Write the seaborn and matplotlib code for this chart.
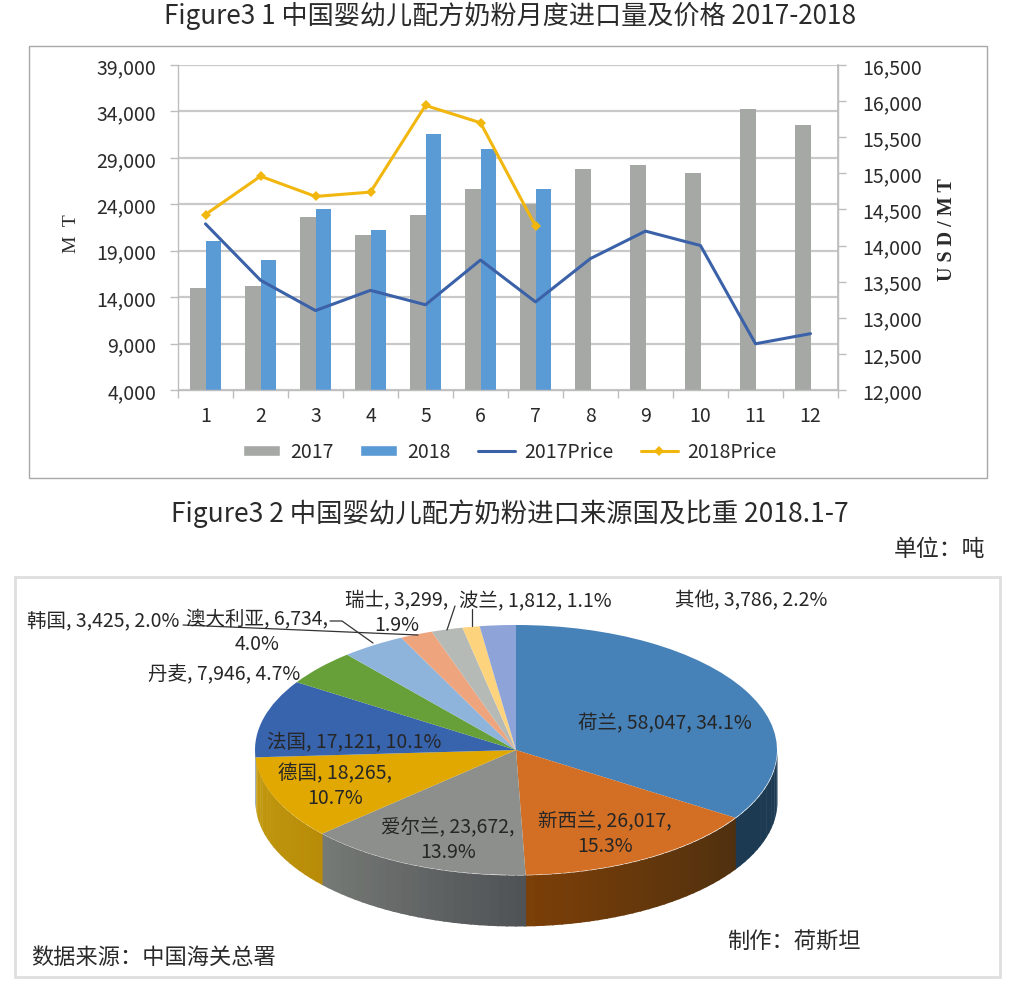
import numpy as np
import pandas as pd
import matplotlib
matplotlib.use("Agg")
import matplotlib.pyplot as plt
from matplotlib.lines import Line2D
from matplotlib.patches import Patch, Rectangle
from matplotlib.ticker import StrMethodFormatter
from matplotlib.colors import to_rgb
import seaborn as sns

months = [str(i) for i in range(1, 13)]
vol_2017 = [15000, 15200, 22600, 20700, 22900, 25600, 24000, 27800, 28200, 27400, 34300, 32500]
vol_2018 = [20000, 18000, 23500, 21200, 31600, 30000, 25600, np.nan, np.nan, np.nan, np.nan, np.nan]
price_2017 = [14300, 13520, 13100, 13380, 13180, 13800, 13220, 13820, 14200, 14000, 12640, 12780]
price_2018 = [14430, 14960, 14680, 14740, 15940, 15700, 14270]
left_ticks = list(range(4000, 39001, 5000))
right_ticks = list(range(12000, 16501, 500))

countries = ["荷兰", "新西兰", "爱尔兰", "德国", "法国", "丹麦", "澳大利亚", "韩国", "瑞士", "波兰", "其他"]
tons = [58047, 26017, 23672, 18265, 17121, 7946, 6734, 3425, 3299, 1812, 3786]
shares = [34.1, 15.3, 13.9, 10.7, 10.1, 4.7, 4.0, 2.0, 1.9, 1.1, 2.2]
top_colors = ["#4681b8", "#d36f24", "#8c8f8c", "#e0a800", "#3864ae", "#679f38",
              "#8fb4dc", "#eea57e", "#b5bab6", "#fdd37e", "#8ea3d8"]
side_right = ["#1c3a52", "#4f300f", "#505356", "#b88c08", "#3864ae", "#679f38",
              "#8fb4dc", "#eea57e", "#b5bab6", "#fdd37e", "#8ea3d8"]
side_left = ["#1c3a52", "#7b3f08", "#767a76", "#c39a10", "#3864ae", "#679f38",
             "#8fb4dc", "#eea57e", "#b5bab6", "#fdd37e", "#8ea3d8"]

sns.set_theme(style="white")
CJK = ["Noto Sans CJK SC", "DejaVu Sans"]
plt.rcParams["font.family"] = CJK

W, H = 1014, 995
fig = plt.figure(figsize=(W / 100, H / 100), dpi=100, facecolor="white")


def fx(x):
    return x / W


def fy(y):
    return 1 - y / H


def box(l, t, r, b):
    return [fx(l), fy(b), (r - l) / W, (b - t) / H]


TXT = "#2a2a2a"
fig.text(fx(510), fy(16), "Figure3 1 中国婴幼儿配方奶粉月度进口量及价格 2017-2018",
         ha="center", va="center", fontsize=18.8, color=TXT)
fig.text(fx(510), fy(514), "Figure3 2 中国婴幼儿配方奶粉进口来源国及比重 2018.1-7",
         ha="center", va="center", fontsize=19, color=TXT)
fig.text(fx(985), fy(549), "单位：吨", ha="right", va="center", fontsize=16.5, color=TXT)

fig.add_artist(Rectangle((fx(29), fy(479)), 958 / W, 432 / H, transform=fig.transFigure,
                         fc="none", ec="#a8a8a8", lw=1, zorder=-1))
fig.add_artist(Rectangle((fx(15), fy(978)), 985 / W, 400 / H, transform=fig.transFigure,
                         fc="none", ec="#dedede", lw=2, zorder=-1))

# ---- combo chart
ax = fig.add_axes(box(178, 66, 838, 391))
long = pd.DataFrame({
    "month": months * 2,
    "volume": vol_2017 + vol_2018,
    "year": ["2017"] * 12 + ["2018"] * 12,
})
C17, C18 = "#a5a8a5", "#5b9bd5"
sns.barplot(data=long, x="month", y="volume", hue="year", order=months,
            hue_order=["2017", "2018"], palette=[C17, C18], width=0.56, gap=0,
            legend=False, errorbar=None, ax=ax, saturation=1, linewidth=0)
ax.set_xlim(-0.5, 11.5)
ax.set_ylim(4000, 39000)
ax.set_yticks(left_ticks)
ax.yaxis.set_major_formatter(StrMethodFormatter("{x:,.0f}"))
ax.set_axisbelow(True)
ax.grid(axis="y", color="#c9c9c9", lw=1.6)
ax.set_xlabel("")
ax.set_ylabel("")
ax.set_xticks(np.arange(-0.5, 12), minor=True)
ax.tick_params(axis="x", which="major", length=0, pad=11, labelsize=14, labelcolor=TXT)
ax.tick_params(axis="x", which="minor", length=5.5, width=1, color="#bdbdbd", bottom=True)
ax.tick_params(axis="y", length=5.8, width=1, color="#bdbdbd", pad=10, labelsize=14, labelcolor=TXT, left=True)
for s in ax.spines.values():
    s.set_color("#bdbdbd")
    s.set_linewidth(1)
ax.spines["top"].set_visible(False)

ax2 = ax.twinx()
pos = np.arange(len(months))
C_P17, C_P18 = "#3b62a8", "#f2b70e"
sns.lineplot(x=pos, y=price_2017, color=C_P17, lw=2.2, ax=ax2, legend=False, errorbar=None)
sns.lineplot(x=pos[:len(price_2018)], y=price_2018, color=C_P18, lw=2.2, marker="D",
             markersize=5.5, markeredgewidth=0, ax=ax2, legend=False, errorbar=None)
ax2.set_ylim(12000, 16500)
ax2.set_yticks(right_ticks)
ax2.yaxis.set_major_formatter(StrMethodFormatter("{x:,.0f}"))
ax2.set_ylabel("")
ax2.grid(False)
ax2.tick_params(axis="y", length=5.8, width=1, color="#bdbdbd", pad=12, labelsize=14, labelcolor=TXT, right=True)
for s in ax2.spines.values():
    s.set_visible(False)
ax2.spines["right"].set_visible(True)
ax2.spines["right"].set_color("#bdbdbd")

fig.text(fx(71), fy(234), "M  T", rotation=90, ha="center", va="center",
         fontsize=14, family=["Liberation Serif", "DejaVu Serif"], color=TXT)
fig.text(fx(947), fy(230), "U S D / M T", rotation=90, ha="center", va="center",
         fontsize=14.5, fontweight="bold", family=["Liberation Serif", "DejaVu Serif"], color=TXT)

handles = [Patch(fc=C17), Patch(fc=C18), Line2D([], [], color=C_P17, lw=2.2),
           Line2D([], [], color=C_P18, lw=2.2, marker="D", ms=5.5, mew=0)]
ax2.legend(handles, ["2017", "2018", "2017Price", "2018Price"], ncol=4, loc="center",
           bbox_to_anchor=(fx(510), fy(453)), bbox_transform=fig.transFigure, frameon=False,
           fontsize=14, labelcolor=TXT, handlelength=1.9, handleheight=0.55,
           columnspacing=1.4, handletextpad=0.5, borderpad=0)

# ---- 3D-looking pie (top face stretched into an ellipse, side wall below)
RY = 125
DEPTH = 51
pie_ax = fig.add_axes(box(255, 626, 777, 876 + DEPTH))
depth = DEPTH / RY
edges = np.concatenate([[0], np.cumsum(tons)]) / np.sum(tons) * 360
for i in range(len(tons)):
    a0, a1 = max(edges[i], 90), min(edges[i + 1], 270)
    if a1 <= a0:
        continue
    n = max(2, int((a1 - a0) / 2))
    grid = np.linspace(a0, a1, n + 1)
    c0, c1 = np.array(to_rgb(side_right[i])), np.array(to_rgb(side_left[i]))
    for j in range(n):
        t = np.radians(np.linspace(grid[j], grid[j + 1] + 0.4, 6))
        x = np.sin(t)
        y = np.cos(t)
        order = np.argsort(x)
        f = j / max(1, n - 1)
        pie_ax.fill_between(x[order], y[order], y[order] - depth,
                            color=c0 + (c1 - c0) * f, lw=0, zorder=1)
wedges, _ = pie_ax.pie(tons, colors=top_colors, startangle=90, counterclock=False,
                       wedgeprops={"linewidth": 0, "zorder": 2})
pie_ax.set_aspect("auto")
pie_ax.set_xlim(-1, 1)
pie_ax.set_ylim(-1 - depth, 1)
pie_ax.axis("off")


def label(i):
    return f"{countries[i]}, {tons[i]:,}, {shares[i]}%"


def label2(i):
    return f"{countries[i]}, {tons[i]:,},\n{shares[i]}%"


LBL = 14
placements = [(0, 665, 724, 1), (1, 605, 834, 2), (2, 448, 840, 2), (3, 335, 786, 2), (4, 354, 743, 1),
              (5, 224, 674, 1), (6, 257, 632, 2), (7, 103, 622, 1), (8, 397, 613, 2), (9, 535, 602, 1),
              (10, 751, 601, 1)]
for i, x, y, lines in placements:
    fig.text(fx(x), fy(y), label(i) if lines == 1 else label2(i), ha="center", va="center",
             fontsize=LBL, color="#262626", linespacing=1.2, zorder=5)

leaders = [([183, 418], [626, 636]), ([330, 342, 373], [622, 622, 644]),
           ([455, 447], [607, 631]), ([472, 472], [610, 627])]
for xs, ys in leaders:
    fig.add_artist(Line2D([fx(v) for v in xs], [fy(v) for v in ys], color="#333333", lw=0.9,
                          transform=fig.transFigure, zorder=4))

fig.text(fx(794), fy(942), "制作：荷斯坦", ha="center", va="center", fontsize=16, color=TXT)
fig.text(fx(153), fy(957), "数据来源：中国海关总署", ha="center", va="center", fontsize=16, color=TXT)

fig.savefig("out.png", dpi=100, facecolor="white")
